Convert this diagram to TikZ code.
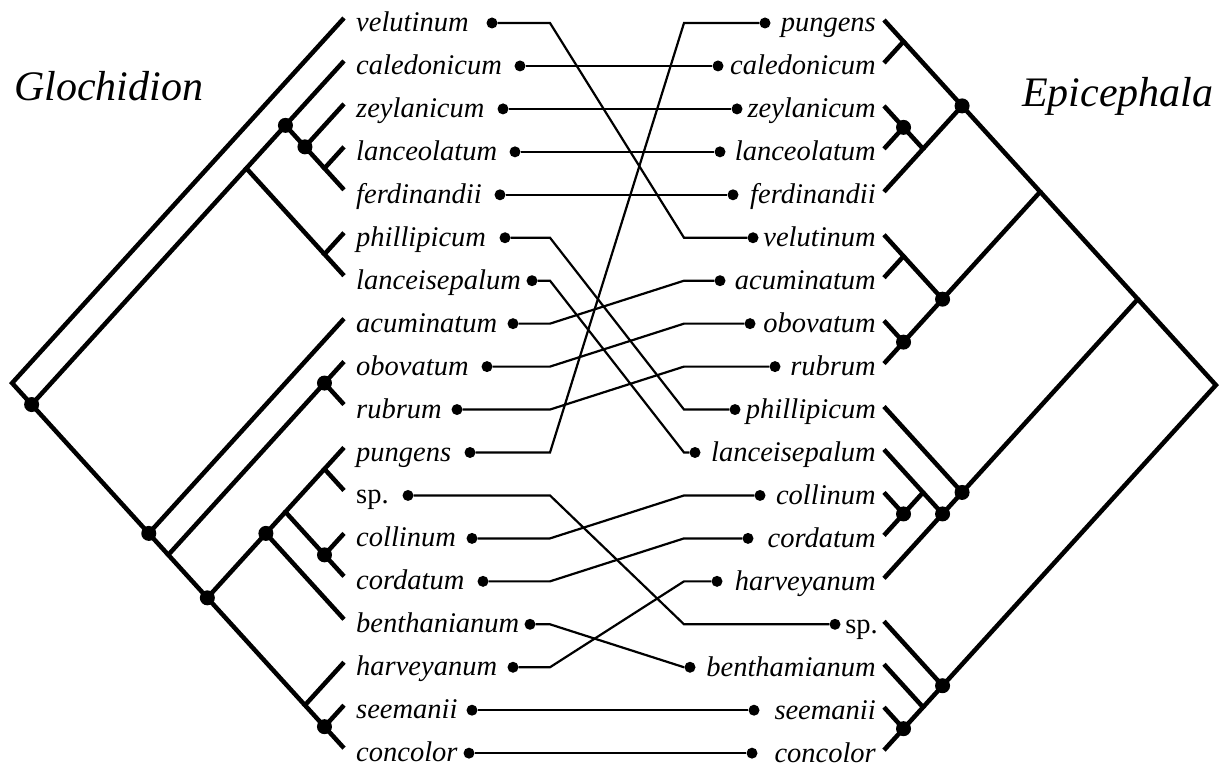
\documentclass[tikz,border=0pt]{standalone}
\usepackage{fontspec}
\setmainfont{Liberation Serif}
\usetikzlibrary{calc}
\def\rs{42.95}
\newcommand\LNode[3]{\coordinate (#1) at ({344-(#3-#2)*\rs/2.2},{18+\rs*(#2+#3)/2});}
\newcommand\RNode[3]{\coordinate (#1) at ({884+(#3-#2)*\rs/2.2},{20+\rs*(#2+#3)/2});}
\begin{document}
\begin{tikzpicture}[x=1pt,y=-1pt,
  tree/.style={line width=4.5pt, line join=miter, line cap=butt},
  conn/.style={line width=2.2pt},
  sdot/.style={circle, fill=black, inner sep=0pt, minimum size=15pt},
  cdot/.style={circle, fill=black, inner sep=0pt, minimum size=11pt},
  lab/.style={inner sep=0pt, font=\fontsize{28.5}{30}\selectfont\itshape},
  labu/.style={inner sep=0pt, font=\fontsize{28.5}{30}\selectfont},
  title/.style={inner sep=0pt, font=\fontsize{42}{44}\selectfont\itshape}]
\useasboundingbox (0,0) rectangle (1221,767);

% tips
\foreach \i in {0,...,17} {
  \coordinate (Lt\i) at (344,{18+\rs*\i});
  \coordinate (Rt\i) at (884,{20+\rs*\i});
}
% left tree nodes
\LNode{Lroot}{0}{17}
\LNode{Lrest}{1}{17}
\LNode{LA}{1}{6}
\LNode{LA1}{1}{4}
\LNode{LA11}{2}{4}
\LNode{LA111}{3}{4}
\LNode{LA2}{5}{6}
\LNode{LB}{7}{17}
\LNode{LB2}{8}{17}
\LNode{LOR}{8}{9}
\LNode{LB3}{10}{17}
\LNode{LB4}{10}{14}
\LNode{LB41}{10}{13}
\LNode{LPS}{10}{11}
\LNode{LCC}{12}{13}
\LNode{LB5}{15}{17}
\LNode{LSC}{16}{17}
% right tree nodes
\RNode{Rroot}{0}{17}
\RNode{RX}{0}{13}
\RNode{RX1}{0}{8}
\RNode{RX1a}{0}{4}
\RNode{RPC}{0}{1}
\RNode{RZLF}{2}{4}
\RNode{RZL}{2}{3}
\RNode{RX1b}{5}{8}
\RNode{RVA}{5}{6}
\RNode{ROR}{7}{8}
\RNode{RX2}{9}{13}
\RNode{RX2b}{10}{13}
\RNode{RLCC}{10}{12}
\RNode{RCC}{11}{12}
\RNode{RY}{14}{17}
\RNode{RY2}{15}{17}
\RNode{RSC}{16}{17}

% left tree
\draw[tree] (Lt3) -- (LA111) -- (Lt4);
\draw[tree] (Lt2) -- (LA11) -- (LA111);
\draw[tree] (Lt1) -- (LA1) -- (LA11);
\draw[tree] (Lt5) -- (LA2) -- (Lt6);
\draw[tree] (LA1) -- (LA) -- (LA2);
\draw[tree] (Lt8) -- (LOR) -- (Lt9);
\draw[tree] (Lt10) -- (LPS) -- (Lt11);
\draw[tree] (Lt12) -- (LCC) -- (Lt13);
\draw[tree] (LPS) -- (LB41) -- (LCC);
\draw[tree] (LB41) -- (LB4) -- (Lt14);
\draw[tree] (Lt16) -- (LSC) -- (Lt17);
\draw[tree] (Lt15) -- (LB5) -- (LSC);
\draw[tree] (LB4) -- (LB3) -- (LB5);
\draw[tree] (LOR) -- (LB2) -- (LB3);
\draw[tree] (Lt7) -- (LB) -- (LB2);
\draw[tree] (LA) -- (Lrest) -- (LB);
\draw[tree] (Lt0) -- (Lroot) -- (Lrest);

% right tree
\draw[tree] (Rt0) -- (RPC) -- (Rt1);
\draw[tree] (Rt2) -- (RZL) -- (Rt3);
\draw[tree] (RZL) -- (RZLF) -- (Rt4);
\draw[tree] (RPC) -- (RX1a) -- (RZLF);
\draw[tree] (Rt5) -- (RVA) -- (Rt6);
\draw[tree] (Rt7) -- (ROR) -- (Rt8);
\draw[tree] (RVA) -- (RX1b) -- (ROR);
\draw[tree] (RX1a) -- (RX1) -- (RX1b);
\draw[tree] (Rt11) -- (RCC) -- (Rt12);
\draw[tree] (Rt10) -- (RLCC) -- (RCC);
\draw[tree] (RLCC) -- (RX2b) -- (Rt13);
\draw[tree] (Rt9) -- (RX2) -- (RX2b);
\draw[tree] (RX1) -- (RX) -- (RX2);
\draw[tree] (Rt16) -- (RSC) -- (Rt17);
\draw[tree] (Rt15) -- (RY2) -- (RSC);
\draw[tree] (Rt14) -- (RY) -- (RY2);
\draw[tree] (RX) -- (Rroot) -- (RY);

% support dots
\foreach \n in {Lrest,LA1,LA11,LOR,LB,LB3,LB4,LCC,LSC,RX1a,RZL,RX1b,ROR,RX2,RX2b,RCC,RY,RSC}
  \node[sdot] (dot\n) at (\n) {};

% titles
\node[title, anchor=base west] (glo) at (14,101) {Glochidion};
\node[title, anchor=base west] (epi) at (1022,107) {Epicephala};

% left labels
\foreach \i/\t in {0/velutinum,1/caledonicum,2/zeylanicum,3/lanceolatum,4/ferdinandii,5/phillipicum,6/lanceisepalum,7/acuminatum,8/obovatum,9/rubrum,10/pungens,12/collinum,13/cordatum,14/benthanianum,15/harveyanum,16/seemanii,17/concolor}
  \node[lab, anchor=base west] (Ll\i) at (356,{23+\rs*\i+8.5}) {\t};
\node[labu, anchor=base west] (Ll11) at (356,{23+\rs*11+8.5}) {sp.};
% right labels
\foreach \i/\t in {0/pungens,1/caledonicum,2/zeylanicum,3/lanceolatum,4/ferdinandii,5/velutinum,6/acuminatum,7/obovatum,8/rubrum,9/phillipicum,10/lanceisepalum,11/collinum,12/cordatum,13/harveyanum,15/benthamianum,16/seemanii,17/concolor}
  \node[lab, anchor=base east] (Rl\i) at (876,{23+\rs*\i+9}) {\t};
\node[labu, anchor=base east] (Rl14) at (878,{23+\rs*14+9}) {sp.};

% bend coordinates
\coordinate (bL) at (550,0);
\coordinate (bR) at (684,0);

% connector dots
\foreach \i/\x in {0/492,1/520,2/503,3/515,4/500,5/505,6/532,7/513,8/487,9/457,10/470,11/408,12/472,13/483,14/530,15/513,16/472,17/469}
  \node[cdot] (Ld\i) at (\x,{23+\rs*\i}) {};
\foreach \i/\x in {0/765,1/718,2/737,3/720,4/733,5/753,6/720,7/750,8/775,9/735,10/695,11/760,12/748,13/717,14/835,15/690,16/754,17/752}
  \node[cdot] (Rd\i) at (\x,{23+\rs*\i}) {};

% connectors
\foreach \a/\b in {0/5,1/1,2/2,3/3,4/4,5/9,6/10,7/6,8/7,9/8,10/0,11/14,12/11,13/12,14/15,15/13,16/16,17/17}
  \draw[conn] (Ld\a) -- (Ld\a -| bL) -- (Rd\b -| bR) -- (Rd\b);
\end{tikzpicture}
\end{document}
